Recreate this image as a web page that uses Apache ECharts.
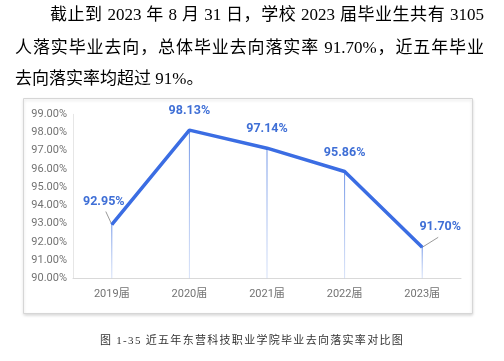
<!DOCTYPE html>
<html>
<head>
<meta charset="utf-8">
<script src="https://cdn.jsdelivr.net/npm/echarts@6/dist/echarts.min.js"></script>
<style>
html,body{margin:0;padding:0;background:#fff;width:504px;height:361px;overflow:hidden;}
#chart{position:absolute;left:0;top:0;width:504px;height:361px;}
.p{position:absolute;font-family:"Liberation Serif","Noto Sans CJK SC",serif;font-size:17px;color:#000;white-space:nowrap;line-height:20px;}
.j{text-align:justify;text-align-last:justify;white-space:normal;}
.cap{position:absolute;left:0;width:504px;top:331px;text-align:center;font-family:"Liberation Serif","Noto Sans CJK SC",serif;font-size:11px;letter-spacing:1.3px;color:#333;}
</style>
</head>
<body>
<div id="chart"></div>
<div class="p j" style="left:50px;top:5px;width:434px;">截止到 2023 年 8 月 31 日，学校 2023 届毕业生共有 3105</div>
<div class="p j" style="left:15px;top:38px;width:469px;">人落实毕业去向，总体毕业去向落实率 91.70%，近五年毕业</div>
<div class="p" style="left:15px;top:69px;">去向落实率均超过 91%。</div>
<div class="cap">图 1-35 近五年东营科技职业学院毕业去向落实率对比图</div>
<script>
const categories = ['2019届', '2020届', '2021届', '2022届', '2023届'];
const rates = [92.95, 98.13, 97.14, 95.86, 91.70];
const yTicks = { min: 90, max: 99, interval: 1 };

const chart = echarts.init(document.getElementById('chart'), null, { renderer: 'canvas' });
// pixel styling: label displacement and guide-line end offsets
const labelMoves = { 0: { dx: -8, dy: -4 }, 4: { dx: 18, dy: -1 } };
const guideEnds = { 0: [-6, -13], 4: [16, -10] };
chart.setOption({
  backgroundColor: 'transparent',
  animation: false,
  graphic: [{
    type: 'rect', z: -10,
    shape: { x: 23.5, y: 98.5, width: 449, height: 215 },
    style: { fill: '#fff', stroke: '#d6d6d6', lineWidth: 1, shadowBlur: 3, shadowOffsetY: 1.5, shadowColor: 'rgba(0,0,0,0.15)' }
  }],
  grid: { left: 73, right: 43, top: 114.3, bottom: 82.7 },
  xAxis: {
    type: 'category', data: categories, boundaryGap: true,
    axisLine: { lineStyle: { color: '#d9d9d9' } },
    axisTick: { show: false },
    axisLabel: { color: '#737373', fontSize: 11, margin: 10, fontFamily: 'Roboto, "Noto Sans CJK SC", sans-serif' }
  },
  yAxis: {
    type: 'value', min: yTicks.min, max: yTicks.max, interval: yTicks.interval,
    axisLine: { show: true, lineStyle: { color: '#e6e6e6' } },
    axisTick: { show: false },
    splitLine: { show: false },
    axisLabel: { color: '#737373', fontSize: 11, margin: 6, fontFamily: 'Roboto, sans-serif',
      formatter: v => v.toFixed(2) + '%' }
  },
  series: [{
    type: 'bar', data: rates, barWidth: 1, silent: true,
    itemStyle: { color: new echarts.graphic.LinearGradient(0, 0, 0, 1, [
      { offset: 0, color: 'rgba(80,125,225,0.85)' }, { offset: 1, color: 'rgba(140,170,235,0.35)' }]) }
  }, {
    type: 'custom', silent: true, z: 1,
    data: rates.map((v, i) => [i, v]),
    renderItem: (params, api) => {
      const end = guideEnds[params.dataIndex];
      if (!end) return null;
      const p = api.coord([api.value(0), api.value(1)]);
      return { type: 'line', shape: { x1: p[0], y1: p[1], x2: p[0] + end[0], y2: p[1] + end[1] },
        style: { stroke: '#9a9a9a', lineWidth: 1 } };
    }
  }, {
    type: 'line', data: rates, z: 3,
    symbol: 'circle', symbolSize: 1, showSymbol: true,
    itemStyle: { color: '#3b6de3' },
    lineStyle: { color: '#3b6de3', width: 3.5 },
    label: { show: true, position: 'top', distance: 12, color: '#3f6fd6', fontWeight: 'bold', fontSize: 12.5,
      fontFamily: 'Roboto, sans-serif', formatter: p => p.value.toFixed(2) + '%' },
    labelLayout: p => labelMoves[p.dataIndex] || {}
  }]
});
</script>
</body>
</html>
